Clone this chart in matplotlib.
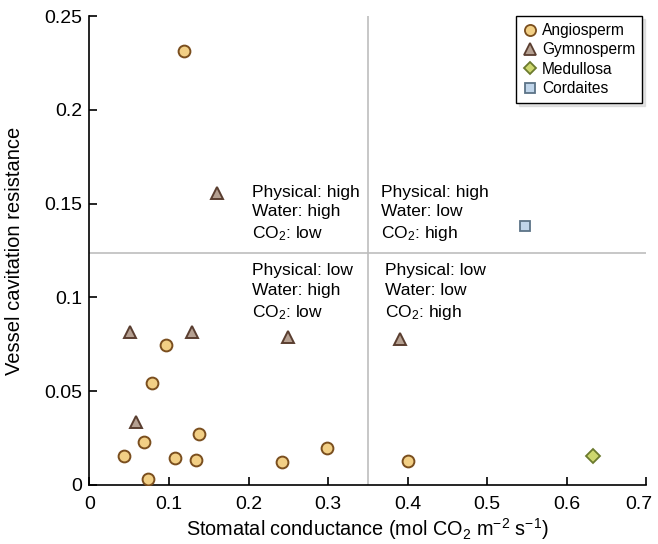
import matplotlib
matplotlib.use('Agg')
import matplotlib.pyplot as plt
from matplotlib.lines import Line2D
from matplotlib.transforms import ScaledTranslation

plt.rcParams['font.family'] = ['Liberation Sans', 'DejaVu Sans']
plt.rcParams['mathtext.fontset'] = 'custom'
plt.rcParams['mathtext.rm'] = 'Liberation Sans'
plt.rcParams['mathtext.it'] = 'Liberation Sans:italic'
plt.rcParams['mathtext.default'] = 'regular'

# data
angio_x = [0.119, 0.096, 0.078, 0.138, 0.068, 0.044, 0.108, 0.134, 0.073, 0.2425, 0.299, 0.401]
angio_y = [0.2315, 0.0747, 0.0542, 0.027, 0.0228, 0.0156, 0.0142, 0.0133, 0.0032, 0.0124, 0.0199, 0.013]
gymno_x = [0.160, 0.051, 0.129, 0.058, 0.2496, 0.390]
gymno_y = [0.1556, 0.0814, 0.0814, 0.0338, 0.0788, 0.0777]
medul_x = [0.633]
medul_y = [0.0155]
cord_x = [0.548]
cord_y = [0.138]

x_split = 0.35
y_split = 0.1236

quad_text = [
    (0.204, 0.1445, 'Physical: high\nWater: high\nCO$_2$: low'),
    (0.366, 0.1445, 'Physical: high\nWater: low\nCO$_2$: high'),
    (0.204, 0.1026, 'Physical: low\nWater: high\nCO$_2$: low'),
    (0.372, 0.1026, 'Physical: low\nWater: low\nCO$_2$: high'),
]

fig = plt.figure(figsize=(6.58, 5.44), dpi=100)
ax = fig.add_axes([0.136, 0.1085, 0.846, 0.862])

ax.axvline(x_split, color='#bdbdbd', lw=1.2, zorder=1)
ax.axhline(y_split, color='#bdbdbd', lw=1.2, zorder=1)

ms = 8.5
ax.plot(angio_x, angio_y, 'o', ms=ms, mfc='#f2cf85', mec='#7a4e1e', mew=1.4, zorder=3)
ax.plot(gymno_x, gymno_y, '^', ms=ms + 0.5, mfc='#b5a091', mec='#5a3e30', mew=1.4, zorder=3)
ax.plot(medul_x, medul_y, 'D', ms=ms - 1.5, mfc='#cdd76e', mec='#6b7a2e', mew=1.3, zorder=3)
ax.plot(cord_x, cord_y, 's', ms=ms - 1, mfc='#c0d5ea', mec='#5c7387', mew=1.3, zorder=3)

for tx, ty, s in quad_text:
    ax.text(tx, ty, s, fontsize=12.5, va='center', ha='left', linespacing=1.36)

ax.set_xlim(0, 0.7)
ax.set_ylim(0, 0.25)
ax.set_xticks([0, 0.1, 0.2, 0.3, 0.4, 0.5, 0.6, 0.7])
ax.set_xticklabels(['0', '0.1', '0.2', '0.3', '0.4', '0.5', '0.6', '0.7'])
ax.set_yticks([0, 0.05, 0.1, 0.15, 0.2, 0.25])
ax.set_yticklabels(['0', '0.05', '0.1', '0.15', '0.2', '0.25'])
ax.tick_params(direction='in', length=6, width=1.2, labelsize=14)
ax.tick_params(axis='x', pad=8)
ax.tick_params(axis='y', pad=5)
for side in ['top', 'right']:
    ax.spines[side].set_visible(False)
for side in ['left', 'bottom']:
    ax.spines[side].set_linewidth(1.2)

# keep the last x tick label inside the figure
last = ax.get_xticklabels()[-1]
last.set_transform(last.get_transform() + ScaledTranslation(-5 / 72, 0, fig.dpi_scale_trans))

ax.set_xlabel('Stomatal conductance (mol CO$_2$ m$^{\u22122}$ s$^{\u22121}$)', fontsize=14.3, labelpad=2)
ax.set_ylabel('Vessel cavitation resistance', fontsize=14.5, labelpad=15)

handles = [
    Line2D([], [], ls='none', marker='o', ms=8, mfc='#f2cf85', mec='#7a4e1e', mew=1.3),
    Line2D([], [], ls='none', marker='^', ms=8.5, mfc='#b5a091', mec='#5a3e30', mew=1.3),
    Line2D([], [], ls='none', marker='D', ms=6.5, mfc='#cdd76e', mec='#6b7a2e', mew=1.3),
    Line2D([], [], ls='none', marker='s', ms=7.5, mfc='#c0d5ea', mec='#5c7387', mew=1.3),
]
labels = ['Angiosperm', 'Gymnosperm', 'Medullosa', 'Cordaites']
leg = ax.legend(handles, labels, loc='upper right', bbox_to_anchor=(0.993, 1.0),
                fontsize=11.2, frameon=True, fancybox=False,
                shadow={'color': '#c8c8c8', 'ox': 2, 'oy': -2},
                handlelength=0.8, handletextpad=0.4, labelspacing=0.28,
                borderpad=0.45, borderaxespad=0)
leg.get_frame().set_edgecolor('black')
leg.get_frame().set_linewidth(1.0)
leg.get_frame().set_alpha(1)

fig.savefig('out.png', dpi=100)
